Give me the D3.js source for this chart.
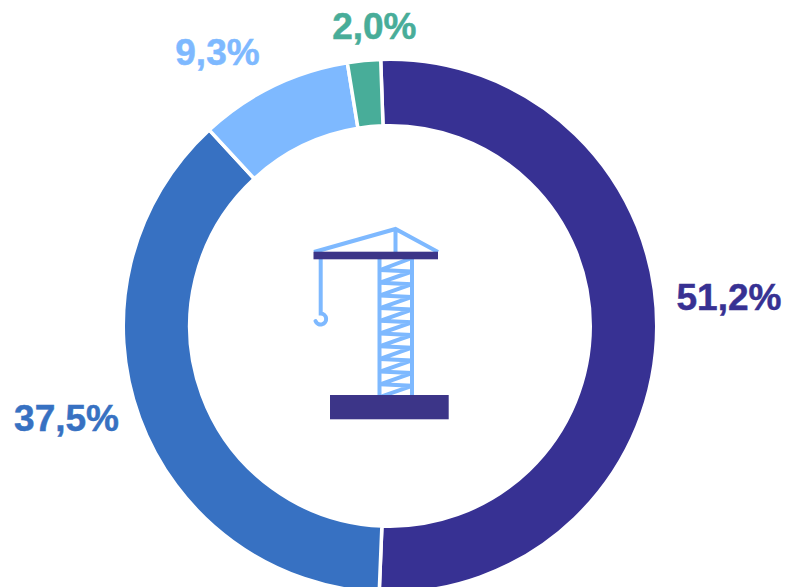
<!DOCTYPE html>
<html>
<head>
<meta charset="utf-8">
<script src="https://cdnjs.cloudflare.com/ajax/libs/d3/7.8.5/d3.min.js"></script>
<style>
  html, body { margin: 0; padding: 0; background: #fff; overflow: hidden; }
  svg { display: block; }
</style>
</head>
<body>
<div id="wrapper"></div>
<script>
const categories = ["A", "B", "C", "D"];
const values = [51.2, 37.5, 9.3, 2.0];
const labels = ["51,2%", "37,5%", "9,3%", "2,0%"];
const colors = ["#373193", "#3771c2", "#7eb9ff", "#48ad99"];

const TOWER_COLOR = "#3c3588";
const CRANE_COLOR = "#7eb9ff";

// small hand nudges so the labels sit where they do in the picture
const labelNudges = [[4, -29], [-9, -23], [-26, 28], [17, 34]];

function drawDonut() {
  const dimensions = {
    width: 787,
    height: 587,
    cx: 390,
    cy: 326,
    outer: 266.75,
    inner: 200.25,
    labelRadius: 335,
  };

  const wrapper = d3.select("#wrapper")
    .append("svg")
    .attr("width", dimensions.width)
    .attr("height", dimensions.height);

  const bounds = wrapper.append("g")
    .attr("transform", `translate(${dimensions.cx}, ${dimensions.cy})`);

  const start = -2 * Math.PI / 180;
  const pie = d3.pie()
    .sort(null)
    .startAngle(start)
    .endAngle(start + 2 * Math.PI)
    .value((d, i) => values[i]);

  const arcs = pie(categories);

  const arc = d3.arc()
    .innerRadius(dimensions.inner)
    .outerRadius(dimensions.outer);

  const labelArc = d3.arc()
    .innerRadius(dimensions.labelRadius)
    .outerRadius(dimensions.labelRadius);

  bounds.selectAll("path.slice")
    .data(arcs)
    .enter().append("path")
    .attr("class", "slice")
    .attr("d", arc)
    .attr("fill", (d, i) => colors[i])
    .attr("stroke", "white")
    .attr("stroke-width", 3.5);

  bounds.selectAll("text.label")
    .data(arcs)
    .enter().append("text")
    .attr("class", "label")
    .attr("x", (d, i) => labelArc.centroid(d)[0] + labelNudges[i][0])
    .attr("y", (d, i) => labelArc.centroid(d)[1] + labelNudges[i][1])
    .attr("text-anchor", "middle")
    .attr("dominant-baseline", "central")
    .attr("fill", (d, i) => colors[i])
    .attr("stroke", (d, i) => colors[i])
    .attr("stroke-width", 0.5)
    .style("font-family", "'Liberation Sans', Arial, sans-serif")
    .style("font-weight", "bold")
    .style("font-size", "37px")
    .text((d, i) => labels[i]);

  // crane icon in the middle
  const crane = wrapper.append("g")
    .attr("fill", "none")
    .attr("stroke", CRANE_COLOR)
    .attr("stroke-width", 4);

  wrapper.append("defs").append("clipPath").attr("id", "towerClip")
    .append("rect").attr("x", 378).attr("y", 259).attr("width", 36).attr("height", 136);

  crane.append("path").attr("d", "M379.5 259V395M412 259V395");

  const legLeft = 380, legRight = 412;
  let zig = `M${legRight} 258`;
  for (let y = 270; y < 400; y += 12.7) {
    zig += `L${legLeft} ${y}L${legRight} ${y + 1.5}`;
  }
  crane.append("path").attr("d", zig).attr("clip-path", "url(#towerClip)");

  crane.append("path").attr("d", "M314 252L395.5 229L438 252M395.5 229V252");
  crane.append("path")
    .attr("stroke-linecap", "round")
    .attr("d", "M320.7 259V313.5A5.5 5.5 0 1 1 315.5 321");

  wrapper.append("rect")
    .attr("x", 313.5).attr("y", 251.7).attr("width", 124.5).attr("height", 7.6)
    .attr("fill", TOWER_COLOR);
  wrapper.append("rect")
    .attr("x", 330).attr("y", 395).attr("width", 118.7).attr("height", 24.3)
    .attr("fill", TOWER_COLOR);
}

drawDonut();
</script>
</body>
</html>
